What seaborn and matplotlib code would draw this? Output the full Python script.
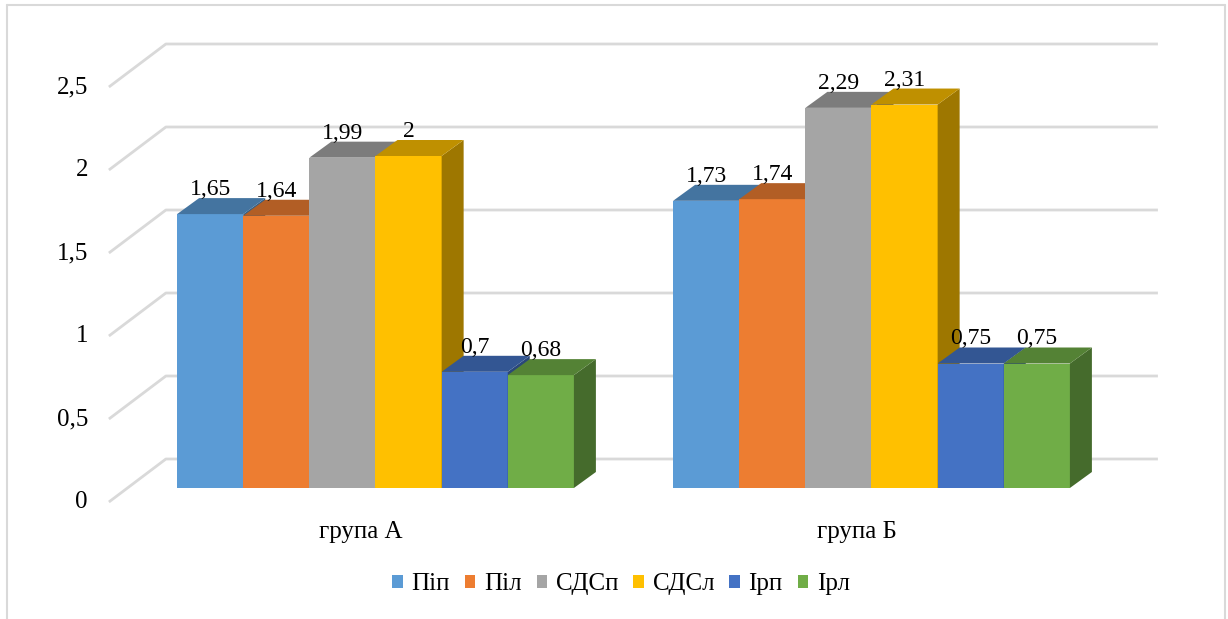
import matplotlib
matplotlib.use("Agg")
import matplotlib.pyplot as plt
import seaborn as sns
import pandas as pd
from matplotlib.patches import Polygon, Patch
from matplotlib.lines import Line2D
from matplotlib.colors import to_rgb

# ---- data ----
groups = ["група А", "група Б"]
series = ["Піп", "Піл", "СДСп", "СДСл", "Ірп", "Ірл"]
group_a = [1.65, 1.64, 1.99, 2.00, 0.70, 0.68]
group_b = [1.73, 1.74, 2.29, 2.31, 0.75, 0.75]
colors = ["#5B9BD5", "#ED7D31", "#A5A5A5", "#FFC000", "#4472C4", "#70AD47"]
yticks = [0, 0.5, 1, 1.5, 2, 2.5]
ytick_labels = ["0", "0,5", "1", "1,5", "2", "2,5"]

df = pd.DataFrame({
    "group": [g for g in groups for _ in series],
    "series": series * len(groups),
    "value": group_a + group_b,
})

sns.set_theme(style="white")
plt.rcParams["font.family"] = ["Liberation Serif", "DejaVu Serif"]

W, H = 1228, 619
fig = plt.figure(figsize=(W / 100, H / 100), dpi=100)

# axes frame (pixels) and scale of the bar front plane
AX_L, AX_T, AX_R, AX_B = 100, 20, 1180, 560
X0_PX, Y0_PX = 375.5, 488
PX_PER_CAT, PX_PER_UNIT = 496.0, 166.0

ax = fig.add_axes([AX_L / W, 1 - AX_B / H, (AX_R - AX_L) / W, (AX_B - AX_T) / H])
sns.barplot(data=df, x="group", y="value", hue="series", order=groups,
            hue_order=series, palette=colors, saturation=1, width=0.8,
            edgecolor="none", linewidth=0, legend=False, ax=ax)
ax.set_xlim((AX_L - X0_PX) / PX_PER_CAT, (AX_R - X0_PX) / PX_PER_CAT)
ax.set_ylim((Y0_PX - AX_B) / PX_PER_UNIT, (Y0_PX - AX_T) / PX_PER_UNIT)
ax.set_axis_off()


def px(dx, dy):
    """pixel offset -> data offset (y up)"""
    return dx / PX_PER_CAT, dy / PX_PER_UNIT


BAR_D = px(22, 16)        # depth of each bar
FRONT = px(-18.6, -14)    # front edge of the floor relative to bar fronts
BACK = px(38.4, 29)       # back wall relative to bar fronts
X_MIN, X_MAX = -0.5, len(groups) - 0.5

grid_c = "#D9D9D9"
text_c = "#000000"
FS = 18

# gridlines: left wall diagonal + back wall horizontal
for v, lab in zip(yticks, ytick_labels):
    ax.plot([X_MIN + FRONT[0], X_MIN + BACK[0], X_MAX + BACK[0]],
            [v + FRONT[1], v + BACK[1], v + BACK[1]],
            color=grid_c, lw=2, zorder=1, solid_capstyle="butt")
    ax.text(X_MIN + FRONT[0] - px(21, 0)[0], v + FRONT[1], lab,
            ha="right", va="center", fontsize=FS, color=text_c)

# category labels along the front edge
for i, g in enumerate(groups):
    ax.text(i + FRONT[0] + px(4, 0)[0], FRONT[1] - px(0, 30)[1], g,
            ha="center", va="center", fontsize=FS, color=text_c)


def shade(c, f):
    r, g, b = to_rgb(c)
    return (r * f, g * f, b * f)


# 3-D faces and value labels, painted left to right
for k, (cont, col) in enumerate(zip(ax.containers, colors)):
    z = 3 + k
    for bar in cont:
        bar.set_zorder(z)
        x0, w, h = bar.get_x(), bar.get_width(), bar.get_height()
        dx, dy = BAR_D
        top = Polygon([(x0, h), (x0 + w, h), (x0 + w + dx, h + dy), (x0 + dx, h + dy)],
                      closed=True, facecolor=shade(col, 0.75), edgecolor="none", zorder=z)
        side = Polygon([(x0 + w, 0), (x0 + w + dx, dy), (x0 + w + dx, h + dy), (x0 + w, h)],
                       closed=True, facecolor=shade(col, 0.62), edgecolor="none", zorder=z)
        ax.add_patch(side)
        ax.add_patch(top)
        lab = f"{h:g}".replace(".", ",")
        ax.text(x0 + w / 2, h + dy + px(0, 3)[1], lab, ha="center", va="baseline",
                fontsize=FS - 1, color=text_c, zorder=20)

# legend
handles = [Patch(facecolor=c, edgecolor="none") for c in colors]
fig.legend(handles, series, loc="center", bbox_to_anchor=(621 / W, 1 - 584 / H),
           ncol=len(series), frameon=False, fontsize=FS, handlelength=0.42,
           handleheight=0.42, handletextpad=0.35, columnspacing=0.6,
           labelcolor=text_c)

# outer frame of the chart area
for xs, ys in [([7, 7], [5, H]), ([7, 1225], [5, 5]), ([1225, 1225], [5, H])]:
    fig.add_artist(Line2D([x / W for x in xs], [1 - y / H for y in ys],
                          color=grid_c, lw=1.5))

fig.savefig("out.png", dpi=100, facecolor="white")
